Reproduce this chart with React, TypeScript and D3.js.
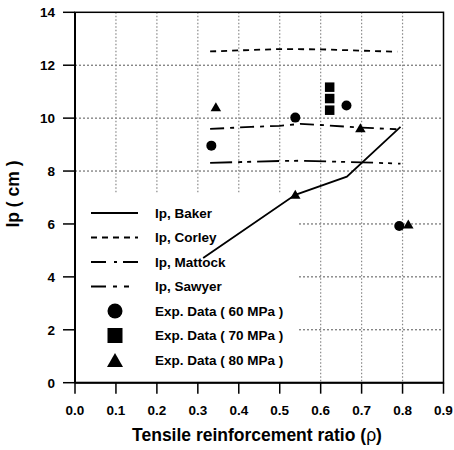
import React from "react";
import * as d3 from "d3";

const xTicks = [0, 0.1, 0.2, 0.3, 0.4, 0.5, 0.6, 0.7, 0.8, 0.9];
const yTicks = [0, 2, 4, 6, 8, 10, 12, 14];

const bakerRho = [0.313, 0.538, 0.664, 0.795];
const bakerIp = [4.71, 7.1, 7.79, 9.67];
const corleyRho = [0.33, 0.4, 0.5, 0.6, 0.7, 0.787];
const corleyIp = [12.52, 12.56, 12.61, 12.6, 12.55, 12.51];
const mattockRho = [0.33, 0.43, 0.5, 0.55, 0.6, 0.7, 0.785];
const mattockIp = [9.59, 9.67, 9.71, 9.78, 9.74, 9.64, 9.58];
const sawyerRho = [0.33, 0.5, 0.55, 0.7, 0.795];
const sawyerIp = [8.31, 8.38, 8.39, 8.33, 8.28];

const exp60Rho = [0.333, 0.538, 0.663, 0.792];
const exp60Ip = [8.96, 10.02, 10.48, 5.92];
const exp70Rho = [0.622, 0.622, 0.622];
const exp70Ip = [11.17, 10.74, 10.3];
const exp80Rho = [0.344, 0.538, 0.697, 0.814];
const exp80Ip = [10.43, 7.12, 9.64, 6.0];

const legendLabels = [
  "Ip, Baker",
  "Ip, Corley",
  "Ip, Mattock",
  "Ip, Sawyer",
  "Exp. Data ( 60 MPa )",
  "Exp. Data ( 70 MPa )",
  "Exp. Data ( 80 MPa )",
];

const FONT = "'Liberation Sans', Arial, sans-serif";

const x = d3.scaleLinear().domain([0, 0.9]).range([75, 443.5]);
const y = d3.scaleLinear().domain([0, 14]).range([382.7, 12.3]);

const line = d3
  .line<[number, number]>()
  .x((d) => x(d[0]))
  .y((d) => y(d[1]));

const zip = (a: number[], b: number[]) => a.map((v, i) => [v, b[i]] as [number, number]);

const tri = (cx: number, cy: number, w: number, h: number) =>
  `M${cx - w / 2},${cy + h / 2}L${cx + w / 2},${cy + h / 2}L${cx},${cy - h / 2}Z`;

export default function App() {
  const legendX0 = 76;
  const legendX1 = 298;
  const legendY0 = 193;
  const rowY = (i: number) => 213 + i * 24.5;
  const dashes = ["", "6,5", "14,6,4,6", "22,6,4,5,4,6"];
  const legendDashes = ["", "6,5", "15,8,3,6", "15,7,4,7,5,20"];
  const lines = [
    zip(bakerRho, bakerIp),
    zip(corleyRho, corleyIp),
    zip(mattockRho, mattockIp),
    zip(sawyerRho, sawyerIp),
  ];
  return (
    <div style={{ position: "absolute", left: 0, top: 0 }}>
      <svg width={454} height={450} style={{ display: "block", background: "#fff" }}>
        <rect x={0} y={0} width={454} height={450} fill="#fff" />
        {/* grid */}
        {yTicks.slice(1, -1).map((t) => (
          <line key={"gy" + t} x1={x(0)} x2={x(0.9)} y1={y(t)} y2={y(t)} stroke="#555" strokeWidth={1} strokeDasharray="2,2" />
        ))}
        {xTicks.slice(1, -1).map((t) => (
          <line key={"gx" + t} x1={x(t)} x2={x(t)} y1={y(14)} y2={y(0)} stroke="#888" strokeWidth={1.2} strokeDasharray="1.5,2" />
        ))}
        {/* legend background */}
        <rect x={legendX0} y={legendY0} width={legendX1 - legendX0} height={y(0) - legendY0 - 1} fill="#fff" />
        {/* model lines */}
        {lines.map((d, i) => (
          <path key={"l" + i} d={line(d) || ""} fill="none" stroke="#000" strokeWidth={1.8} strokeDasharray={dashes[i] || undefined} />
        ))}
        {/* markers */}
        {exp60Rho.map((r, i) => (
          <circle key={"c" + i} cx={x(r)} cy={y(exp60Ip[i])} r={5} fill="#000" />
        ))}
        {exp70Rho.map((r, i) => (
          <rect key={"s" + i} x={x(r) - 4.75} y={y(exp70Ip[i]) - 4.75} width={9.5} height={9.5} fill="#000" />
        ))}
        {exp80Rho.map((r, i) => (
          <path key={"t" + i} d={tri(x(r), y(exp80Ip[i]), 10.5, 9)} fill="#000" />
        ))}
        {/* frame */}
        <rect x={x(0)} y={y(14)} width={x(0.9) - x(0)} height={y(0) - y(14)} fill="none" stroke="#000" strokeWidth={1.5} />
        <line x1={x(0)} x2={x(0)} y1={y(14)} y2={y(0)} stroke="#000" strokeWidth={2} />
        <line x1={x(0)} x2={x(0.9)} y1={y(0)} y2={y(0)} stroke="#000" strokeWidth={2} />
        {/* y ticks */}
        {yTicks.map((t) => (
          <g key={"yt" + t}>
            <line x1={x(0) - 12} x2={x(0)} y1={y(t)} y2={y(t)} stroke="#000" strokeWidth={1.5} />
            <text x={55} y={y(t)} dy="0.36em" textAnchor="end" fontFamily={FONT} fontWeight="bold" fontSize={13.5}>
              {t}
            </text>
          </g>
        ))}
        {/* x ticks */}
        {xTicks.map((t) => (
          <g key={"xt" + t}>
            <line x1={x(t)} x2={x(t)} y1={y(0)} y2={y(0) + 11} stroke="#000" strokeWidth={1.5} />
            <text x={x(t)} y={410} dy="0.36em" textAnchor="middle" fontFamily={FONT} fontWeight="bold" fontSize={13.5}>
              {t.toFixed(1)}
            </text>
          </g>
        ))}
        {/* axis titles */}
        <text x={257} y={435} dy="0.36em" textAnchor="middle" fontFamily={FONT} fontWeight="bold" fontSize={17.5}>
          Tensile reinforcement ratio (<tspan fontWeight="normal">ρ</tspan>)
        </text>
        <text transform="translate(13,194) rotate(-90)" textAnchor="middle" dy="0.36em" fontFamily={FONT} fontWeight="bold" fontSize={17.5}>
          Ip ( cm )
        </text>
        {/* legend */}
        {legendLabels.map((lab, i) => {
          const cy = rowY(i);
          let sym: React.ReactNode = null;
          if (i < 4) {
            sym = <line x1={91} x2={138} y1={cy} y2={cy} stroke="#000" strokeWidth={1.8} strokeDasharray={legendDashes[i] || undefined} />;
          } else if (i === 4) {
            sym = <circle cx={115} cy={cy} r={7.5} fill="#000" />;
          } else if (i === 5) {
            sym = <rect x={107.5} y={cy - 7.5} width={15} height={15} fill="#000" />;
          } else {
            sym = <path d={tri(115, cy, 16, 14)} fill="#000" />;
          }
          return (
            <g key={"lg" + i}>
              {sym}
              <text x={155} y={cy} dy="0.36em" fontFamily={FONT} fontWeight="bold" fontSize={13.5}>
                {lab}
              </text>
            </g>
          );
        })}
      </svg>
    </div>
  );
}
